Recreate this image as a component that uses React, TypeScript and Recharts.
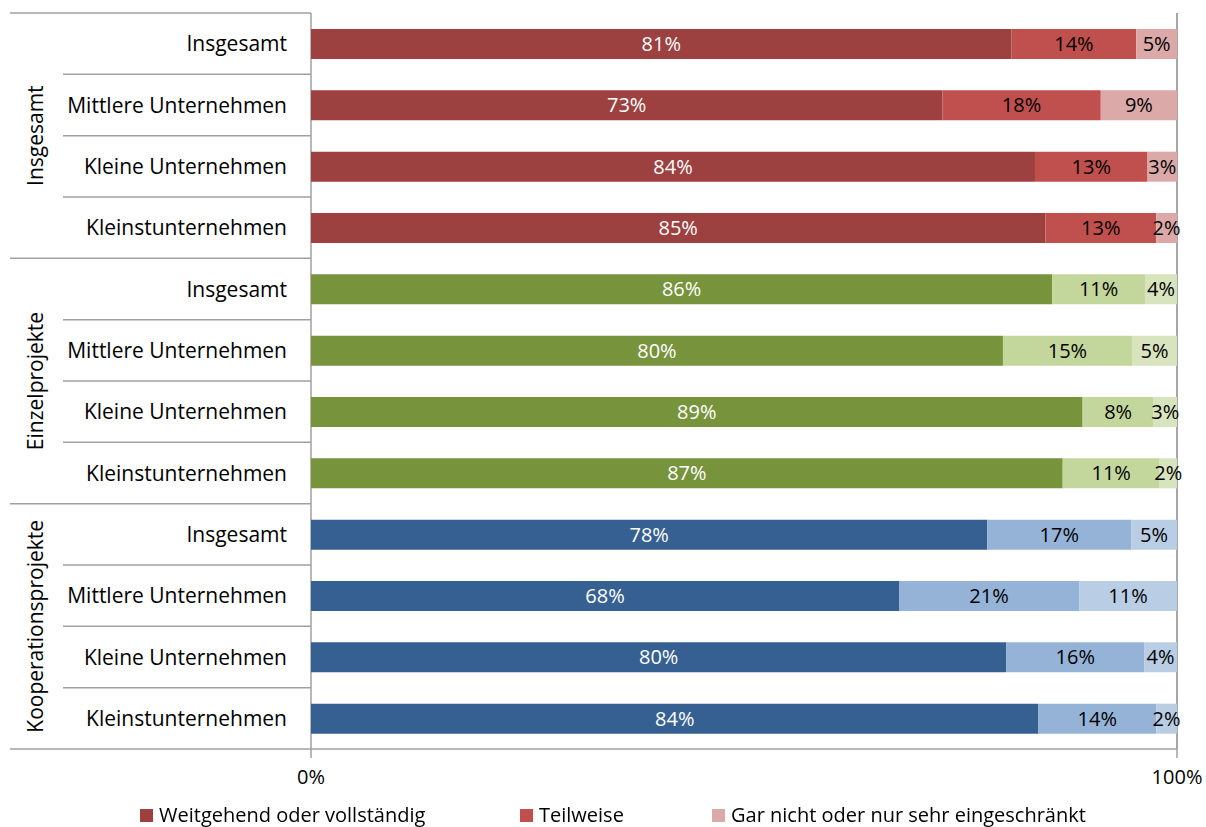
import { BarChart, Bar, XAxis, YAxis, CartesianGrid, Legend, LabelList, Cell } from 'recharts'

const groups = ['Insgesamt', 'Einzelprojekte', 'Kooperationsprojekte']
const categories = [
  'Insgesamt', 'Mittlere Unternehmen', 'Kleine Unternehmen', 'Kleinstunternehmen',
  'Insgesamt', 'Mittlere Unternehmen', 'Kleine Unternehmen', 'Kleinstunternehmen',
  'Insgesamt', 'Mittlere Unternehmen', 'Kleine Unternehmen', 'Kleinstunternehmen',
]
const weitgehend = [80.9, 72.9, 83.6, 84.8, 85.6, 79.9, 89.1, 86.8, 78.1, 67.9, 80.3, 84.0]
const teilweise = [14.4, 18.3, 13.0, 12.8, 10.7, 14.9, 8.2, 11.2, 16.6, 20.8, 15.9, 13.6]
const garNicht = [4.7, 8.8, 3.4, 2.4, 3.7, 5.2, 2.7, 2.0, 5.3, 11.3, 3.8, 2.4]
const seriesNames = ['Weitgehend oder vollständig', 'Teilweise', 'Gar nicht oder nur sehr eingeschränkt']
const xTicks = [0, 100]

// colours per group: [dark, mid, light]
const groupColors = [
  ['#9C413F', '#C0504D', '#DBA9A8'],
  ['#77933C', '#C3D69B', '#D7E4BD'],
  ['#376092', '#95B3D7', '#B9CDE5'],
]

const data = categories.map((name, i) => ({
  name,
  group: Math.floor(i / 4),
  a: weitgehend[i],
  b: teilweise[i],
  c: garNicht[i],
}))

const FONT = '"Open Sans", sans-serif'
const TOP = 13
const BOTTOM = 749
const BAND = (BOTTOM - TOP) / categories.length
const PLOT_LEFT = 311
const LINE = '#a0a0a0'

const pct = (v: any) => `${Math.round(Number(v))}%`

function CategoryTick(props: any) {
  const { y, payload, index } = props
  const lastInGroup = index % 4 === 3
  return (
    <g>
      {index === 0 && <line x1={10} x2={PLOT_LEFT} y1={TOP} y2={TOP} stroke={LINE} strokeWidth={1.5} />}
      <line x1={lastInGroup ? 10 : 63} x2={PLOT_LEFT} y1={y + BAND / 2} y2={y + BAND / 2} stroke={LINE} strokeWidth={1.5} />
      <text x={287} y={y} dy="0.36em" textAnchor="end" fontFamily={FONT} fontSize={21} fill="#000">
        {payload.value}
      </text>
      {index % 4 === 0 && (
        <text
          x={35}
          y={y + BAND * 1.5}
          dy="0.36em"
          textAnchor="middle"
          fontFamily={FONT}
          fontSize={21}
          fill="#000"
          transform={`rotate(-90, 35, ${y + BAND * 1.5})`}
        >
          {groups[Math.floor(index / 4)]}
        </text>
      )}
    </g>
  )
}

const legendLeft = [140, 520, 712]

function LegendContent(props: any) {
  const items = [...(props.payload || [])].sort(
    (p: any, q: any) => seriesNames.indexOf(p.value) - seriesNames.indexOf(q.value),
  )
  return (
    <div style={{ position: 'relative', height: 38, width: 1177 }}>
      {items.map((it: any, i: number) => (
        <div key={i} style={{ position: 'absolute', left: legendLeft[i], top: 16, display: 'flex', alignItems: 'center' }}>
          <span style={{ width: 13, height: 13, background: it.color, display: 'inline-block', marginRight: 6 }} />
          <span style={{ fontFamily: FONT, fontSize: 20, color: '#000', lineHeight: '20px', whiteSpace: 'nowrap' }}>{it.value}</span>
        </div>
      ))}
    </div>
  )
}

export default function App() {
  return (
    <div style={{ position: 'fixed', left: 0, top: 0, background: '#fff', width: 1206, height: 827 }}>
      <BarChart
        width={1206}
        height={827}
        data={data}
        layout="vertical"
        margin={{ top: TOP, right: 29, bottom: 0, left: 0 }}
        barSize={30}
        style={{ overflow: 'visible' }}
      >
        <CartesianGrid horizontal={false} stroke={LINE} strokeWidth={1.5} />
        <XAxis
          type="number"
          domain={[0, 100]}
          ticks={xTicks}
          tickFormatter={(v) => `${v}%`}
          height={40}
          tickSize={9}
          tickMargin={12}
          stroke={LINE}
          strokeWidth={1.5}
          tick={{ fill: '#000', fontFamily: FONT, fontSize: 20 }}
        />
        <YAxis
          type="category"
          dataKey="name"
          width={PLOT_LEFT}
          axisLine={false}
          tickLine={false}
          interval={0}
          tick={<CategoryTick />}
        />
        <Legend verticalAlign="bottom" align="left" content={<LegendContent />} />
        <Bar dataKey="a" stackId="s" name={seriesNames[0]} fill={groupColors[0][0]} isAnimationActive={false}>
          {data.map((d, i) => (
            <Cell key={i} fill={groupColors[d.group][0]} />
          ))}
          <LabelList dataKey="a" position="center" formatter={pct} fill="#fff" fontFamily={FONT} fontSize={20} />
        </Bar>
        <Bar dataKey="b" stackId="s" name={seriesNames[1]} fill={groupColors[0][1]} isAnimationActive={false}>
          {data.map((d, i) => (
            <Cell key={i} fill={groupColors[d.group][1]} />
          ))}
          <LabelList dataKey="b" position="center" formatter={pct} fill="#000" fontFamily={FONT} fontSize={20} />
        </Bar>
        <Bar dataKey="c" stackId="s" name={seriesNames[2]} fill={groupColors[0][2]} isAnimationActive={false}>
          {data.map((d, i) => (
            <Cell key={i} fill={groupColors[d.group][2]} />
          ))}
          <LabelList dataKey="c" position="center" formatter={pct} fill="#000" fontFamily={FONT} fontSize={20} />
        </Bar>
      </BarChart>
    </div>
  )
}
